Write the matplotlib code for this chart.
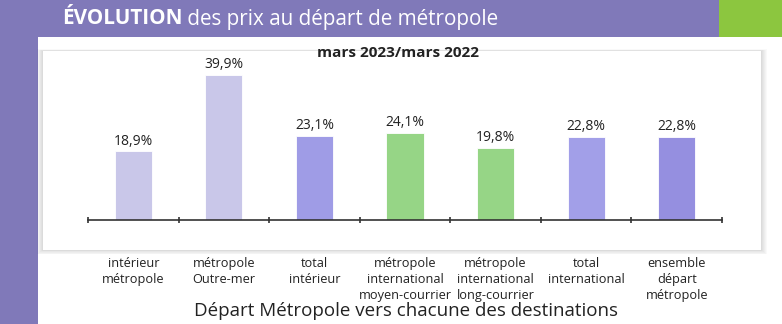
import matplotlib
matplotlib.use("Agg")
import matplotlib.pyplot as plt
from matplotlib.patches import Rectangle

# ---- data ----
categories = ["intérieur\nmétropole", "métropole\nOutre-mer", "total\nintérieur",
              "métropole\ninternational\nmoyen-courrier", "métropole\ninternational\nlong-courrier",
              "total\ninternational", "ensemble\ndépart\nmétropole"]
values = [18.9, 39.9, 23.1, 24.1, 19.8, 22.8, 22.8]
value_labels = ["18,9%", "39,9%", "23,1%", "24,1%", "19,8%", "22,8%", "22,8%"]
bar_colors = ["#c9c7e9", "#c9c7e9", "#9f9ce6", "#96d586", "#96d586", "#a29fe8", "#958fe0"]
header_bold = "ÉVOLUTION"
header_rest = " des prix au départ de métropole"
subtitle = "mars 2023/mars 2022"
xlabel = "Départ Métropole vers chacune des destinations"

W, H = 782, 324
FONT = "Open Sans"
plt.rcParams['font.family'] = [FONT, 'DejaVu Sans']

fig = plt.figure(figsize=(W / 100, H / 100), dpi=100)
fig.patch.set_facecolor("white")

def px_rect(x0, y0, x1, y1, **kw):
    # pixel coords measured from top-left
    r = Rectangle((x0 / W, 1 - y1 / H), (x1 - x0) / W, (y1 - y0) / H,
                  transform=fig.transFigure, **kw)
    fig.patches.append(r)

PURPLE = "#8079b9"
px_rect(0, 0, 38, H, color=PURPLE, lw=0, zorder=0)
px_rect(0, 0, 719, 37, color=PURPLE, lw=0, zorder=0)
px_rect(719, 0, W, 37, color="#8cc63f", lw=0, zorder=0)

# soft panel shadow
for d in range(6, 0, -1):
    px_rect(43 - d, 51 - d * 0.3, 761 + d, 250 + d * 0.7, color="black", alpha=0.022, lw=0, zorder=1)
px_rect(43, 51, 761, 250, color="white", lw=0, zorder=2)

# axes: x 88..722 px, baseline at 220 px from top
ax_left, ax_right = 88, 722
base = 220
ppu = 3.63  # px per percent
top_px = 60
ax = fig.add_axes([ax_left / W, 1 - base / H, (ax_right - ax_left) / W, (base - top_px) / H])
ax.set_zorder(3)
ax.patch.set_alpha(0)
ax.set_xlim(0, len(categories))
ax.set_ylim(0, (base - top_px) / ppu)

xs = [i + 0.5 for i in range(len(categories))]
ax.bar(xs, values, width=0.41, color=bar_colors, edgecolor="white", linewidth=0.6, zorder=2)
for x, v, lab in zip(xs, values, value_labels):
    ax.annotate(lab, (x, v), xytext=(0, 2), textcoords="offset points",
                ha="center", va="bottom", fontsize=10, color="#222222", clip_on=False)

for s in ["top", "right", "left"]:
    ax.spines[s].set_visible(False)
ax.spines["bottom"].set_color("#333333")
ax.spines["bottom"].set_linewidth(1.2)
ax.set_yticks([])
ax.set_xticks(range(len(categories) + 1))
ax.set_xticklabels([])
ax.tick_params(axis="x", direction="inout", length=5, width=1.2, color="#333333")

# category labels below the panel
for x, c in zip(xs, categories):
    ax.annotate(c, (x, 0), xycoords=("data", "data"), xytext=(0, -(257 - base) * 0.72),
                textcoords="offset points", ha="center", va="top", fontsize=9.2,
                color="#222222", linespacing=1.3, annotation_clip=False)

HS = 14.9
fig.text(62 / W, 1 - 19 / H, header_bold, fontsize=HS, fontweight="bold",
         color="white", va="center", ha="left")
t = fig.text(0, 0, header_bold, fontsize=HS, fontweight="bold")
fig.canvas.draw()
bb = t.get_window_extent()
t.remove()
fig.text((62 + bb.width) / W, 1 - 19 / H, header_rest, fontsize=HS,
         color="white", va="center", ha="left")

fig.text(398 / W, 1 - 53 / H, subtitle, fontsize=11, fontweight="bold",
         color="#222222", ha="center", va="center", zorder=5)
fig.text(406 / W, 1 - 311 / H, xlabel, fontsize=13.5, color="#222222",
         ha="center", va="center")

fig.savefig("out.png", dpi=100, facecolor="white")
